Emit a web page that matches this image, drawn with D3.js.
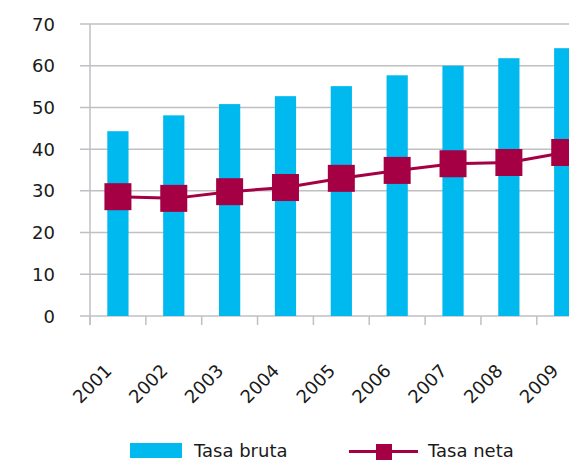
<!DOCTYPE html>
<html>
<head>
<meta charset="utf-8">
<script src="https://cdn.jsdelivr.net/npm/d3@7"></script>
<style>
  body { margin: 0; background: #fff; }
  svg { display: block; }
  text { font-family: "DejaVu Sans", sans-serif; fill: #1a1a1a; }
</style>
</head>
<body>
<script>
var width = 569, height = 462;

var years = ["2001", "2002", "2003", "2004", "2005", "2006", "2007", "2008", "2009"];
var tasaBruta = [44.3, 48.1, 50.8, 52.7, 55.1, 57.7, 60.0, 61.8, 64.2];
var tasaNeta = [28.6, 28.2, 29.8, 30.8, 33.0, 34.9, 36.5, 36.8, 39.2];
var yTicks = [0, 10, 20, 30, 40, 50, 60, 70];

var cyan = "#00b9ef", maroon = "#a50044", gridColor = "#c0bfc4";

var plotLeft = 90, plotTop = 24, plotBottom = 316;
var bandStep = 55.85;

var x = d3.scaleBand()
    .domain(years)
    .range([plotLeft, plotLeft + bandStep * years.length])
    .paddingInner(0.62)
    .paddingOuter(0.31);

var y = d3.scaleLinear().domain([0, 70]).range([plotBottom, plotTop]);

var svg = d3.select("body").append("svg")
    .attr("width", width)
    .attr("height", height);

// gridlines
svg.append("g").selectAll("line")
    .data(yTicks)
    .enter().append("line")
    .attr("x1", 80).attr("x2", width)
    .attr("y1", function (d) { return y(d); })
    .attr("y2", function (d) { return y(d); })
    .attr("stroke", gridColor)
    .attr("stroke-width", 1.5);

// y axis line
svg.append("line")
    .attr("x1", plotLeft).attr("x2", plotLeft)
    .attr("y1", plotTop).attr("y2", plotBottom + 9)
    .attr("stroke", gridColor).attr("stroke-width", 1.5);

// x ticks at band boundaries
svg.append("g").selectAll("line")
    .data(years)
    .enter().append("line")
    .attr("x1", function (d) { return x(d) - x.step() * x.paddingOuter(); })
    .attr("x2", function (d) { return x(d) - x.step() * x.paddingOuter(); })
    .attr("y1", plotBottom).attr("y2", plotBottom + 9)
    .attr("stroke", gridColor).attr("stroke-width", 1.5);

// y labels
svg.append("g").selectAll("text")
    .data(yTicks)
    .enter().append("text")
    .attr("x", 55)
    .attr("y", function (d) { return y(d) + 6.5; })
    .attr("text-anchor", "end")
    .attr("font-size", 18)
    .text(function (d) { return d; });

// bars
svg.append("g").selectAll("rect")
    .data(tasaBruta)
    .enter().append("rect")
    .attr("x", function (d, i) { return x(years[i]); })
    .attr("width", x.bandwidth())
    .attr("y", function (d) { return y(d); })
    .attr("height", function (d) { return plotBottom - y(d); })
    .attr("fill", cyan);

// line
var line = d3.line()
    .x(function (d, i) { return x(years[i]) + x.bandwidth() / 2; })
    .y(function (d) { return y(d); });

svg.append("path")
    .datum(tasaNeta)
    .attr("d", line)
    .attr("fill", "none")
    .attr("stroke", maroon)
    .attr("stroke-width", 3);

var m = 27;
svg.append("g").selectAll("rect")
    .data(tasaNeta)
    .enter().append("rect")
    .attr("x", function (d, i) { return x(years[i]) + x.bandwidth() / 2 - m / 2; })
    .attr("y", function (d) { return y(d) - m / 2; })
    .attr("width", m).attr("height", m)
    .attr("fill", maroon);

// x labels
svg.append("g").selectAll("text")
    .data(years)
    .enter().append("text")
    .attr("transform", function (d) {
        return "translate(" + (x(d) + x.bandwidth() / 2 - 5) + ",372) rotate(-45)";
    })
    .attr("text-anchor", "end")
    .attr("font-size", 18)
    .text(function (d) { return d; });

// legend
var lg = svg.append("g");
lg.append("rect").attr("x", 130).attr("y", 443).attr("width", 52).attr("height", 15).attr("fill", cyan);
lg.append("text").attr("x", 194).attr("y", 457).attr("font-size", 18).text("Tasa bruta");
lg.append("line").attr("x1", 349).attr("x2", 418).attr("y1", 451.5).attr("y2", 451.5)
    .attr("stroke", maroon).attr("stroke-width", 3);
lg.append("rect").attr("x", 376).attr("y", 444).attr("width", 16).attr("height", 16).attr("fill", maroon);
lg.append("text").attr("x", 428).attr("y", 457).attr("font-size", 18).text("Tasa neta");
</script>
</body>
</html>
